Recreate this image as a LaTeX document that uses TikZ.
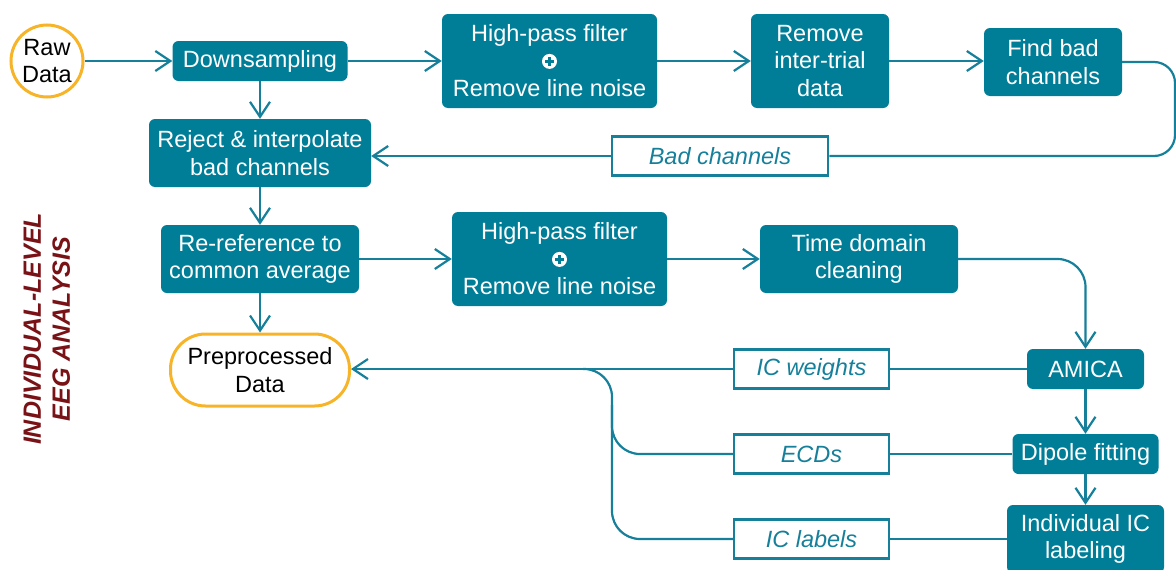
\documentclass[tikz,border=0pt]{standalone}
\usepackage{fontspec}
\setmainfont{Liberation Sans}
\usetikzlibrary{arrows.meta}
\definecolor{boxteal}{RGB}{0,126,152}
\definecolor{lineteal}{RGB}{22,128,155}
\definecolor{dataorange}{RGB}{247,180,40}
\definecolor{titlered}{RGB}{120,18,22}
\newcommand{\plusmark}{\tikz[baseline={(0pt,-8pt)}]{\fill[white] (0pt,0pt) circle (7.5pt); \draw[boxteal, line width=2.4pt] (-4.5pt,0pt) -- (4.5pt,0pt) (0pt,-4.5pt) -- (0pt,4.5pt);}}

\begin{document}
\begin{tikzpicture}[x=1pt, y=-1pt,
  stepbox/.style={fill=boxteal, rounded corners=6pt, text=white, align=center, inner sep=0pt, font=\fontsize{23.5}{27.5}\selectfont},
  datanode/.style={draw=dataorange, line width=3pt, fill=white, align=center, inner sep=0pt, font=\fontsize{23.5}{27.5}\selectfont},
  labelbox/.style={draw=lineteal, line width=2.5pt, fill=white, text=lineteal, inner sep=0pt, minimum width=155pt, minimum height=39pt, font=\fontsize{23.5}{27.5}\selectfont\itshape},
  flow/.style={draw=lineteal, line width=2.2pt, -{Straight Barb[length=15pt,width=20pt]}},
  link/.style={draw=lineteal, line width=2.2pt}]
  \path[use as bounding box, clip] (0,0) rectangle (1176,570);
  % top row
  \node[datanode, circle, minimum size=72pt] (raw) at (47,61) {Raw\\Data};
  \node[stepbox, minimum width=175pt, minimum height=40pt] (down) at (260,61) {Downsampling};
  \node[stepbox, minimum width=215pt, minimum height=94pt] (hpfa) at (549.5,61) {High-pass filter\\\plusmark\\Remove line noise};
  \node[stepbox, minimum width=138pt, minimum height=94pt] (trial) at (820,61) {Remove\\inter-trial\\data};
  \node[stepbox, minimum width=138pt, minimum height=68pt] (findbad) at (1053,62) {Find bad\\channels};
  \node[stepbox, minimum width=222pt, minimum height=68pt] (reject) at (260,153) {Reject \& interpolate\\bad channels};
  \node[labelbox, minimum width=216pt] (badch) at (720,156) {Bad channels};
  % middle row
  \node[stepbox, minimum width=198pt, minimum height=68pt] (reref) at (260,259) {Re-reference to\\common average};
  \node[stepbox, minimum width=215pt, minimum height=94pt] (hpfb) at (559.5,259) {High-pass filter\\\plusmark\\Remove line noise};
  \node[stepbox, minimum width=198pt, minimum height=68pt] (tdc) at (859,259) {Time domain\\cleaning};
  % ICA part
  \node[datanode, rounded corners=35pt, minimum width=179pt, minimum height=72pt] (prep) at (260,370) {Preprocessed\\Data};
  \node[stepbox, minimum width=117pt, minimum height=40pt] (amica) at (1085.5,369) {AMICA};
  \node[stepbox, minimum width=146pt, minimum height=40pt] (dipole) at (1085.5,454) {Dipole fitting};
  \node[stepbox, minimum width=157pt, minimum height=68pt] (iclabel) at (1085.5,539) {Individual IC\\labeling};
  \node[labelbox] (icw) at (811.5,369) {IC weights};
  \node[labelbox] (ecd) at (811.5,454) {ECDs};
  \node[labelbox] (iclab) at (811.5,539) {IC labels};
  \node[rotate=90, text=titlered, align=center, font=\fontsize{25}{29}\selectfont\bfseries\itshape] (title) at (47,329) {INDIVIDUAL-LEVEL\\EEG ANALYSIS};
  \coordinate (turn) at (1175,0);
  \coordinate (fork) at (612,369);
  \coordinate (forkmid) at (612,405);
  \coordinate (forkend) at (583,369);
  % connectors
  \draw[flow] (raw.east) -- (raw.east -| down.west);
  \draw[flow] (down) -- (hpfa);
  \draw[flow] (hpfa) -- (trial);
  \draw[flow] (trial) -- (trial -| findbad.west);
  \draw[flow] (down) -- (reject);
  \draw[link, rounded corners=21pt] (findbad.east) -- (findbad.east -| turn) |- (badch.east);
  \draw[flow] (badch.west) -- (badch.west -| reject.east);
  \draw[flow] (reject) -- (reref);
  \draw[flow] (reref) -- (hpfb);
  \draw[flow] (hpfb) -- (tdc);
  \draw[flow, rounded corners=28pt] (tdc.east) -| (amica.north);
  \draw[flow] (reref) -- (prep);
  \draw[link] (amica.west) -- (icw.east);
  \draw[flow] (icw.west) -- (icw.west -| prep.east);
  \draw[flow] (amica) -- (dipole);
  \draw[flow] (dipole) -- (iclabel);
  \draw[link] (dipole.west) -- (ecd.east);
  \draw[link] (iclabel.west) -- (iclab.east);
  \draw[link, rounded corners=28pt] (iclab.west) -| (fork) -- (forkend);
  \draw[link, rounded corners=28pt] (ecd.west) -| (forkmid);
\end{tikzpicture}
\end{document}
